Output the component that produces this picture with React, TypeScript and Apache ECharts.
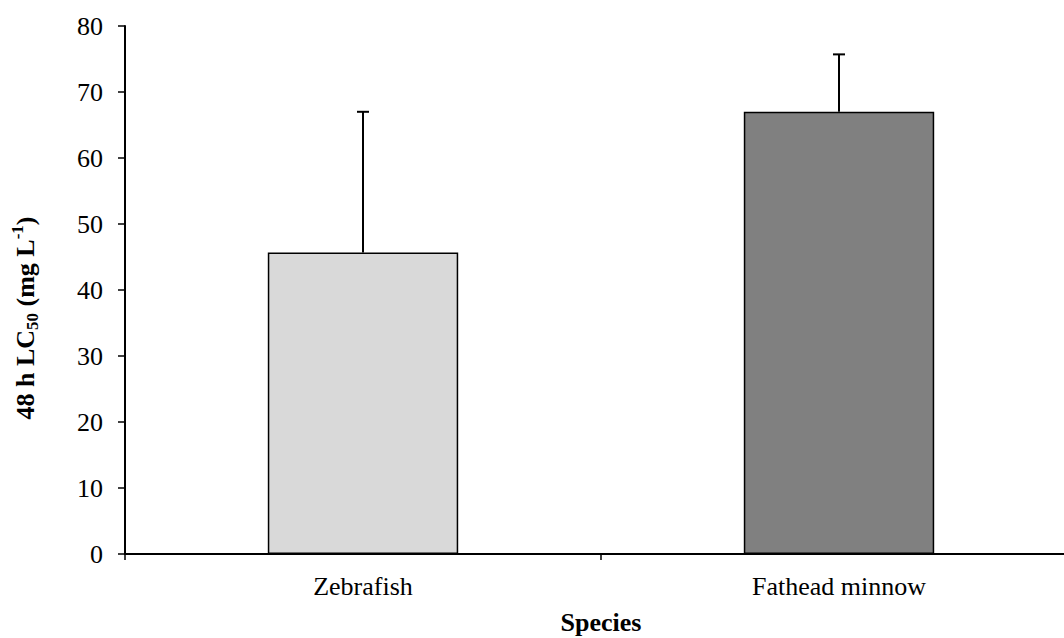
import React, { useEffect, useRef } from "react";
import * as echarts from "echarts";

const species = ["Zebrafish", "Fathead minnow"];
const lc50 = [45.7, 67.0];
const upperError = [67.0, 75.7];
const barColors = ["#d9d9d9", "#808080"];
const yTicks = { min: 0, max: 80, interval: 10 };

const FONT = "'Liberation Serif', 'Times New Roman', serif";

export default function App() {
  const ref = useRef<HTMLDivElement>(null);

  useEffect(() => {
    if (!ref.current) return;
    const chart = echarts.init(ref.current, undefined, { renderer: "svg" });

    const errData = species.map((_, i) => [i, lc50[i], upperError[i]]);

    chart.setOption({
      animation: false,
      backgroundColor: "#ffffff",
      grid: { left: 125, right: 13, top: 26, bottom: 84, containLabel: false, outerBoundsMode: "none" },
      xAxis: {
        type: "category",
        data: species,
        axisLine: { lineStyle: { color: "#000", width: 2 } },
        axisTick: { show: true, length: 6, lineStyle: { color: "#000", width: 1.5 } },
        axisLabel: { color: "#000", fontFamily: FONT, fontSize: 26, margin: 19 },
        name: "Species",
        nameLocation: "middle",
        nameGap: 55,
        nameTextStyle: { color: "#000", fontFamily: FONT, fontSize: 26, fontWeight: "bold" },
      },
      yAxis: {
        type: "value",
        min: yTicks.min,
        max: yTicks.max,
        interval: yTicks.interval,
        splitLine: { show: false },
        axisLine: { show: true, lineStyle: { color: "#000", width: 2 } },
        axisTick: { show: true, length: 7, lineStyle: { color: "#000", width: 1.5 } },
        axisLabel: { color: "#000", fontFamily: FONT, fontSize: 26, margin: 22 },
      },
      graphic: [
        {
          type: "text",
          x: 25,
          y: 318,
          rotation: Math.PI / 2,
          style: {
            text: "{a|48 h LC}{sub|50}{a| (mg L}{sup|-1}{a|)}",
            align: "center",
            verticalAlign: "middle",
            fill: "#000",
            rich: {
              a: { fontFamily: FONT, fontSize: 26, fontWeight: "bold", lineHeight: 32, fill: "#000" },
              sub: { fontFamily: FONT, fontSize: 17, fontWeight: "bold", verticalAlign: "bottom", lineHeight: 17, fill: "#000" },
              sup: { fontFamily: FONT, fontSize: 17, fontWeight: "bold", verticalAlign: "top", lineHeight: 17, fill: "#000" },
            },
          },
        },
      ],
      series: [
        {
          type: "bar",
          barWidth: "40%",
          data: lc50.map((v, i) => ({
            value: v,
            itemStyle: { color: barColors[i], borderColor: "#000", borderWidth: 1.5 },
          })),
          z: 2,
        },
        {
          type: "custom",
          data: errData,
          encode: { x: 0, y: [1, 2] },
          z: 3,
          renderItem: (params: any, api: any) => {
            const x = api.value(0);
            const base = api.coord([x, api.value(1)]);
            const top = api.coord([x, api.value(2)]);
            const half = 6;
            const style = { stroke: "#000", lineWidth: 2 };
            return {
              type: "group",
              children: [
                { type: "line", shape: { x1: base[0], y1: base[1], x2: top[0], y2: top[1] }, style },
                { type: "line", shape: { x1: top[0] - half, y1: top[1], x2: top[0] + half, y2: top[1] }, style },
              ],
            };
          },
        },
      ],
    });

    return () => chart.dispose();
  }, []);

  return (
    <div
      style={{
        position: "fixed",
        left: 0,
        top: 0,
        width: 1064,
        height: 638,
        overflow: "hidden",
        background: "#fff",
      }}
    >
      <div ref={ref} style={{ width: 1090, height: 638 }} />
    </div>
  );
}
